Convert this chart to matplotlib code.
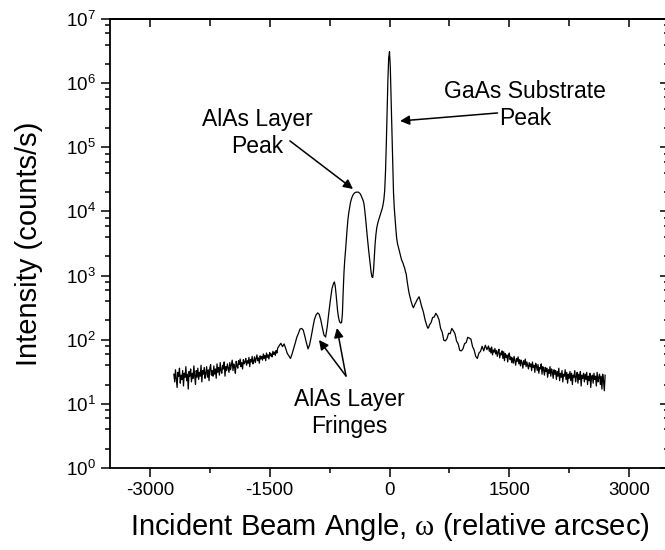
import numpy as np
import matplotlib
matplotlib.use("Agg")
import matplotlib.pyplot as plt
from matplotlib.ticker import FixedLocator, NullFormatter, FuncFormatter, LogLocator

plt.rcParams['font.family'] = ['Liberation Sans', 'DejaVu Sans']
plt.rcParams['mathtext.fontset'] = 'custom'
plt.rcParams['mathtext.rm'] = 'Liberation Serif'
plt.rcParams['mathtext.sf'] = 'Liberation Sans'
plt.rcParams['mathtext.it'] = 'Liberation Serif:italic'
plt.rcParams['axes.unicode_minus'] = False

# Rocking-curve scan, stored in segments (arcsec, counts/s)
far_left_angle = np.arange(-2700, -1400, 10)
far_left_counts = [
    29, 22, 34, 25, 18, 31, 27, 36, 21, 28,
    24, 33, 19, 30, 26, 38, 23, 29, 17, 32,
    27, 35, 22, 30, 25, 39, 28, 20, 33, 26,
    36, 24, 31, 27, 40, 22, 33, 29, 37, 25,
    30, 38, 26, 34, 23, 36, 41, 28, 33, 27,
    39, 29, 35, 25, 42, 31, 37, 28, 44, 33,
    30, 40, 35, 45, 27, 38, 33, 42, 36, 31,
    44, 34, 40, 48, 33, 42, 37, 30, 46, 39,
    36, 47, 41, 50, 38, 44, 35, 49, 42, 45,
    51, 40, 47, 43, 53, 38, 49, 45, 55, 42,
    46, 54, 44, 51, 58, 47, 52, 43, 56, 50,
    55, 48, 60, 51, 57, 47, 62, 53, 58, 50,
    63, 56, 60, 54, 66, 59, 64, 57, 68, 62,
]

fringe_left_angle = np.arange(-1400, -700, 20)
fringe_left_counts = [
    74, 81, 88, 78, 86, 73, 61, 56, 51, 60,
    73, 89, 110, 126, 147, 150, 141, 113, 89, 72,
    84, 112, 154, 207, 243, 262, 248, 203, 152, 118,
    110, 158, 263, 417, 630,
]

core_angle = np.arange(-700, 500, 10)
core_counts = [
    759, 794, 692, 525, 380, 282, 229, 200, 186, 182,
    186, 251, 562, 1122, 1778, 2512, 3802, 5495, 7586, 9550,
    11480, 13490, 15140, 16600, 17780, 18620, 19280, 19720, 19950, 20000,
    20000, 20000, 19500, 19050, 18200, 17000, 15850, 14790, 13180, 10470,
    7943, 5754, 4266, 3162, 2399, 1862, 1413, 1122, 955, 933,
    1202, 1995, 3162, 4365, 5495, 6310, 7079, 7762, 8511, 9333,
    10230, 11220, 12880, 15490, 21380, 41690, 112200, 354800, 1122000, 2512000,
    3090000, 1778000, 562300, 158500, 50120, 19950, 11220, 7586, 5248, 3802,
    3162, 2818, 2512, 2239, 1995, 1778, 1660, 1549, 1413, 1310,
    1150, 1050, 832, 692, 575, 501, 447, 398, 363, 331,
    316, 339, 363, 380, 407, 427, 447, 468, 427, 380,
    339, 309, 282, 251, 219, 195, 178, 162, 151, 155,
]

fringe_right_angle = np.arange(500, 1240, 20)
fringe_right_counts = [
    170, 184, 222, 226, 258, 236, 205, 150, 131, 98,
    96, 104, 126, 124, 150, 138, 124, 95, 86, 68,
    67, 72, 87, 90, 109, 106, 102, 78, 69, 55,
    51, 62, 66, 79, 67, 82, 70,
]

far_right_angle = np.arange(1240, 2701, 10)
far_right_counts = [
    80, 66, 74, 62, 77, 58, 69, 64, 73, 60,
    68, 55, 64, 71, 52, 62, 58, 67, 51, 65,
    47, 61, 53, 58, 45, 56, 62, 49, 54, 44,
    52, 43, 55, 47, 40, 51, 46, 54, 42, 49,
    39, 48, 44, 36, 47, 41, 50, 38, 45, 40,
    35, 44, 38, 42, 33, 45, 37, 40, 31, 43,
    39, 33, 41, 30, 37, 35, 42, 29, 38, 34,
    28, 37, 32, 36, 26, 34, 30, 38, 27, 35,
    31, 25, 34, 29, 33, 24, 32, 27, 36, 23,
    30, 26, 33, 22, 29, 27, 34, 24, 31, 21,
    29, 25, 32, 23, 30, 20, 28, 26, 33, 22,
    27, 31, 21, 29, 24, 32, 19, 28, 25, 30,
    22, 29, 24, 31, 20, 27, 23, 30, 18, 26,
    28, 21, 30, 24, 27, 19, 31, 22, 26, 29,
    20, 27, 17, 29, 23, 16, 28,
]

angle = np.concatenate([far_left_angle, fringe_left_angle, core_angle,
                        fringe_right_angle, far_right_angle])
counts = np.concatenate([far_left_counts, fringe_left_counts, core_counts,
                         fringe_right_counts, far_right_counts]).astype(float)

x_major = [-3000, -1500, 0, 1500, 3000]
x_minor = [-2250, -750, 750, 2250]

fig = plt.figure(figsize=(6.65, 5.5), dpi=100)
ax = fig.add_axes([110 / 665, 82 / 550, 559 / 665, 449 / 550])

ax.plot(angle, counts, color='black', lw=0.9)

ax.set_yscale('log')
ax.set_ylim(1, 1e7)
ax.set_xlim(-3500, 3500)

ax.xaxis.set_major_locator(FixedLocator(x_major))
ax.xaxis.set_minor_locator(FixedLocator(x_minor))
ax.yaxis.set_major_locator(LogLocator(base=10, numticks=20))
ax.yaxis.set_minor_locator(LogLocator(base=10, subs=[2, 4, 6, 8], numticks=20))
ax.yaxis.set_minor_formatter(NullFormatter())
ax.yaxis.set_major_formatter(
    FuncFormatter(lambda v, p: r'$\mathsf{10^{%d}}$' % int(round(np.log10(v)))))

for s in ax.spines.values():
    s.set_linewidth(1.3)

ax.tick_params(which='both', direction='out', top=False, right=False,
               width=1.1, labelsize=13.5, colors='black')
ax.tick_params(which='major', length=6.5, pad=3.5)
ax.tick_params(which='minor', length=3.5)

# Inward ticks on the top and right edges
top = ax.secondary_xaxis('top')
top.xaxis.set_major_locator(FixedLocator(x_major))
top.xaxis.set_minor_locator(FixedLocator(x_minor))
top.xaxis.set_major_formatter(NullFormatter())
top.tick_params(which='both', direction='in', width=1.1)
top.tick_params(which='major', length=6)
top.tick_params(which='minor', length=5)
top.spines['top'].set_linewidth(1.3)

right = ax.secondary_yaxis('right')
right.yaxis.set_major_locator(LogLocator(base=10, numticks=20))
right.yaxis.set_minor_locator(LogLocator(base=10, subs=[2, 4, 6, 8], numticks=20))
right.yaxis.set_major_formatter(NullFormatter())
right.yaxis.set_minor_formatter(NullFormatter())
right.tick_params(which='both', direction='in', width=1.1)
right.tick_params(which='major', length=6.5)
right.tick_params(which='minor', length=3.5)

ax.set_xlabel(r'Incident Beam Angle, $\mathrm{\omega}$ (relative arcsec)', fontsize=21, labelpad=9)
ax.set_ylabel('Intensity (counts/s)', fontsize=21, labelpad=17)

txt = dict(fontsize=16.5, ha='center', va='center', multialignment='center', linespacing=1.2)
arrow = dict(arrowstyle='-|>', color='black', lw=1.1, mutation_scale=14, shrinkA=0, shrinkB=0)

ax.text(1698, 10 ** 5.66, 'GaAs Substrate\nPeak', **txt)
ax.annotate('', xy=(132, 10 ** 5.41), xytext=(1353, 10 ** 5.535), arrowprops=arrow)

ax.text(-1660, 10 ** 5.22, 'AlAs Layer\nPeak', **txt)
ax.annotate('', xy=(-457, 10 ** 4.35), xytext=(-1247, 10 ** 5.10), arrowprops=arrow)

ax.text(-507, 10 ** 0.857, 'AlAs Layer\nFringes', **txt)
ax.annotate('', xy=(-883, 10 ** 1.996), xytext=(-545, 10 ** 1.434), arrowprops=arrow)
ax.annotate('', xy=(-658, 10 ** 2.183), xytext=(-545, 10 ** 1.434), arrowprops=arrow)

fig.savefig('out.png', dpi=100)
